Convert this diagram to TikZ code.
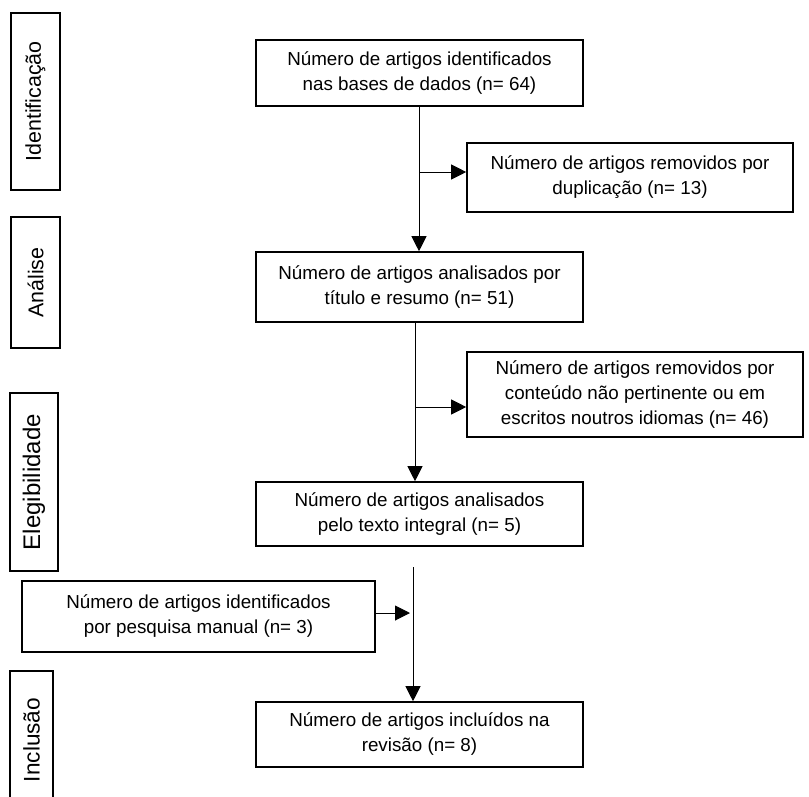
\documentclass[tikz,border=0pt]{standalone}
\usepackage{fontspec}
\setmainfont{Liberation Sans}
\usetikzlibrary{arrows.meta}
\tikzset{
  stepbox/.style={draw, line width=1.6pt, inner sep=0pt, align=center,
    font=\fontsize{18.8}{25}\selectfont},
  phasebox/.style={draw, line width=1.6pt},
  phaselabel/.style={rotate=90, inner sep=0pt},
  flow/.style={line width=1pt, -{Triangle[length=15pt,width=15pt]}},
  plain/.style={line width=1pt}
}
\begin{document}
\begin{tikzpicture}[x=1pt,y=-1pt]
\useasboundingbox (0,0) rectangle (809,796);

% phase frames on the left
\draw[phasebox] (11,13) rectangle (60,190);
\node[phaselabel, font=\fontsize{21.4}{24}\selectfont] (lid) at (35.5,101.5) {Identificação};
\draw[phasebox] (11,217) rectangle (60,348);
\node[phaselabel, font=\fontsize{21.4}{24}\selectfont] (lan) at (35.5,282.5) {Análise};
\draw[phasebox] (10,393) rectangle (58,571);
\node[phaselabel, font=\fontsize{24}{27}\selectfont] (lel) at (34,482) {Elegibilidade};
\draw[phasebox] (10,800) -- (10,671) -- (53,671) -- (53,800);
\node[phaselabel, font=\fontsize{22.6}{25}\selectfont] (lin) at (31.5,740) {Inclusão};

% flow boxes
\node[stepbox, minimum width=327pt, minimum height=66pt] (b1) at (419.5,73)
  {Número de artigos identificados\\nas bases de dados (n= 64)};
\node[stepbox, minimum width=326pt, minimum height=69pt] (b2) at (630,177.5)
  {Número de artigos removidos por\\duplicação (n= 13)};
\node[stepbox, minimum width=327pt, minimum height=70pt] (b3) at (419.5,287)
  {Número de artigos analisados por\\título e resumo (n= 51)};
\node[stepbox, minimum width=336pt, minimum height=85pt] (b4) at (635,394.5)
  {Número de artigos removidos por\\conteúdo não pertinente ou em\\escritos noutros idiomas (n= 46)};
\node[stepbox, minimum width=327pt, minimum height=64pt] (b5) at (419.5,514)
  {Número de artigos analisados\\pelo texto integral (n= 5)};
\node[stepbox, minimum width=353pt, minimum height=71pt] (b6) at (198.5,616.5)
  {Número de artigos identificados\\por pesquisa manual (n= 3)};
\node[stepbox, minimum width=327pt, minimum height=65pt] (b7) at (419.5,734.5)
  {Número de artigos incluídos na\\revisão (n= 8)};

% connectors
\coordinate (j1) at (419,172);
\coordinate (j2) at (415,407);
\coordinate (s3) at (413,567);
\coordinate (j3) at (413,613);
\draw[flow] (b1.south -| j1) -- (b3.north -| j1);
\draw[flow] (j1) -- (j1 -| b2.west);
\draw[flow] (b3.south -| j2) -- (b5.north -| j2);
\draw[flow] (j2) -- (j2 -| b4.west);
\draw[flow] (s3) -- (b7.north -| s3);
\draw[flow] (b6.east |- j3) -- ([xshift=-3pt]j3);
\end{tikzpicture}
\end{document}
